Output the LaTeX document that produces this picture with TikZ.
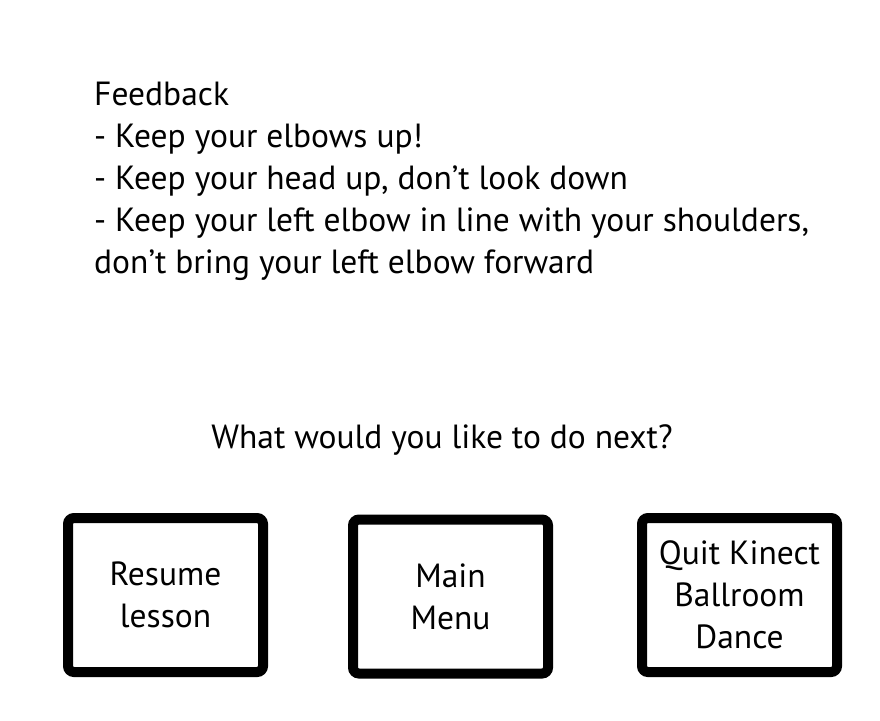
\documentclass[tikz,border=0pt]{standalone}
\usepackage{fontspec}
\setmainfont{PT Sans}
\begin{document}
\begin{tikzpicture}[x=1pt,y=-1pt]
 \tikzset{line/.style={font=\fontsize{33.5}{42}\selectfont, anchor=base west, inner sep=0pt}}
 \tikzset{choice/.style={draw, line width=10pt, rounded corners=6pt, minimum width=195pt, minimum height=154pt, align=center, font=\fontsize{33.5}{42}\selectfont}}
  \useasboundingbox (0,0) rectangle (880,720);
  \node[line] (L1) at (94,105) {Feedback};
  \node[line] (L2) at (94,147) {- Keep your elbows up!};
  \node[line] (L3) at (94,189) {- Keep your head up, don’t look down};
  \node[line] (L4) at (94,231) {- Keep your left elbow in line with your shoulders,};
  \node[line] (L5) at (94,273) {don’t bring your left elbow forward};
  \node[line, anchor=base] (Q) at (442,448) {What would you like to do next?};
  \node[choice] (B1) at (165.5,595) {Resume\\lesson};
  \node[choice] (B2) at (450.5,596.5) {Main\\Menu};
  \node[choice] (B3) at (739.5,595) {Quit Kinect\\Ballroom\\Dance};
\end{tikzpicture}
\end{document}
